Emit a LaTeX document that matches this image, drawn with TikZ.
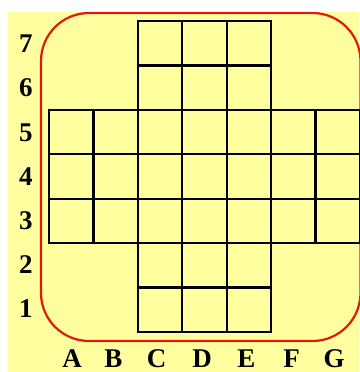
\documentclass[tikz,border=0pt]{standalone}
\usepackage{fontspec}
\setmainfont{Liberation Serif}
\definecolor{bgyellow}{RGB}{255,255,160}
\definecolor{frame}{RGB}{225,25,10}
\begin{document}
\begin{tikzpicture}[x=1pt,y=-1pt,
  lbl/.style={font=\fontsize{27}{29}\selectfont\bfseries, inner sep=0pt, anchor=center},
  gridline/.style={line width=2.2pt, black, line cap=rect}]
\useasboundingbox (0,0) rectangle (359,372);
\fill[white] (0,0) rectangle (359,372);
\fill[bgyellow] (8,12) rectangle (359,372);
\draw[frame, line width=2.2pt, rounded corners=48pt] (41,13) rectangle (360.5,341);
\begin{scope}[shift={(49pt,-21pt)}, x=44.43pt, y=-44.43pt]
  \foreach \k in {2,...,5} {
    \draw[gridline] (\k,0) -- (\k,7);
    \draw[gridline] (0,\k) -- (7,\k);
  }
  \foreach \k in {0,1,6,7} {
    \draw[gridline] (\k,2) -- (\k,5);
    \draw[gridline] (2,\k) -- (5,\k);
  }
\end{scope}
\foreach \t/\yy in {7/43.5,6/88,5/132.5,4/176.5,3/220.5,2/265,1/309}
  \node[lbl] (r\t) at (26,\yy) {\t};
\foreach \t/\xx in {A/72,B/113.5,C/156.5,D/202,E/246.5,F/291.5,G/334}
  \node[lbl] (c\t) at (\xx,358.5) {\t};
\end{tikzpicture}
\end{document}
